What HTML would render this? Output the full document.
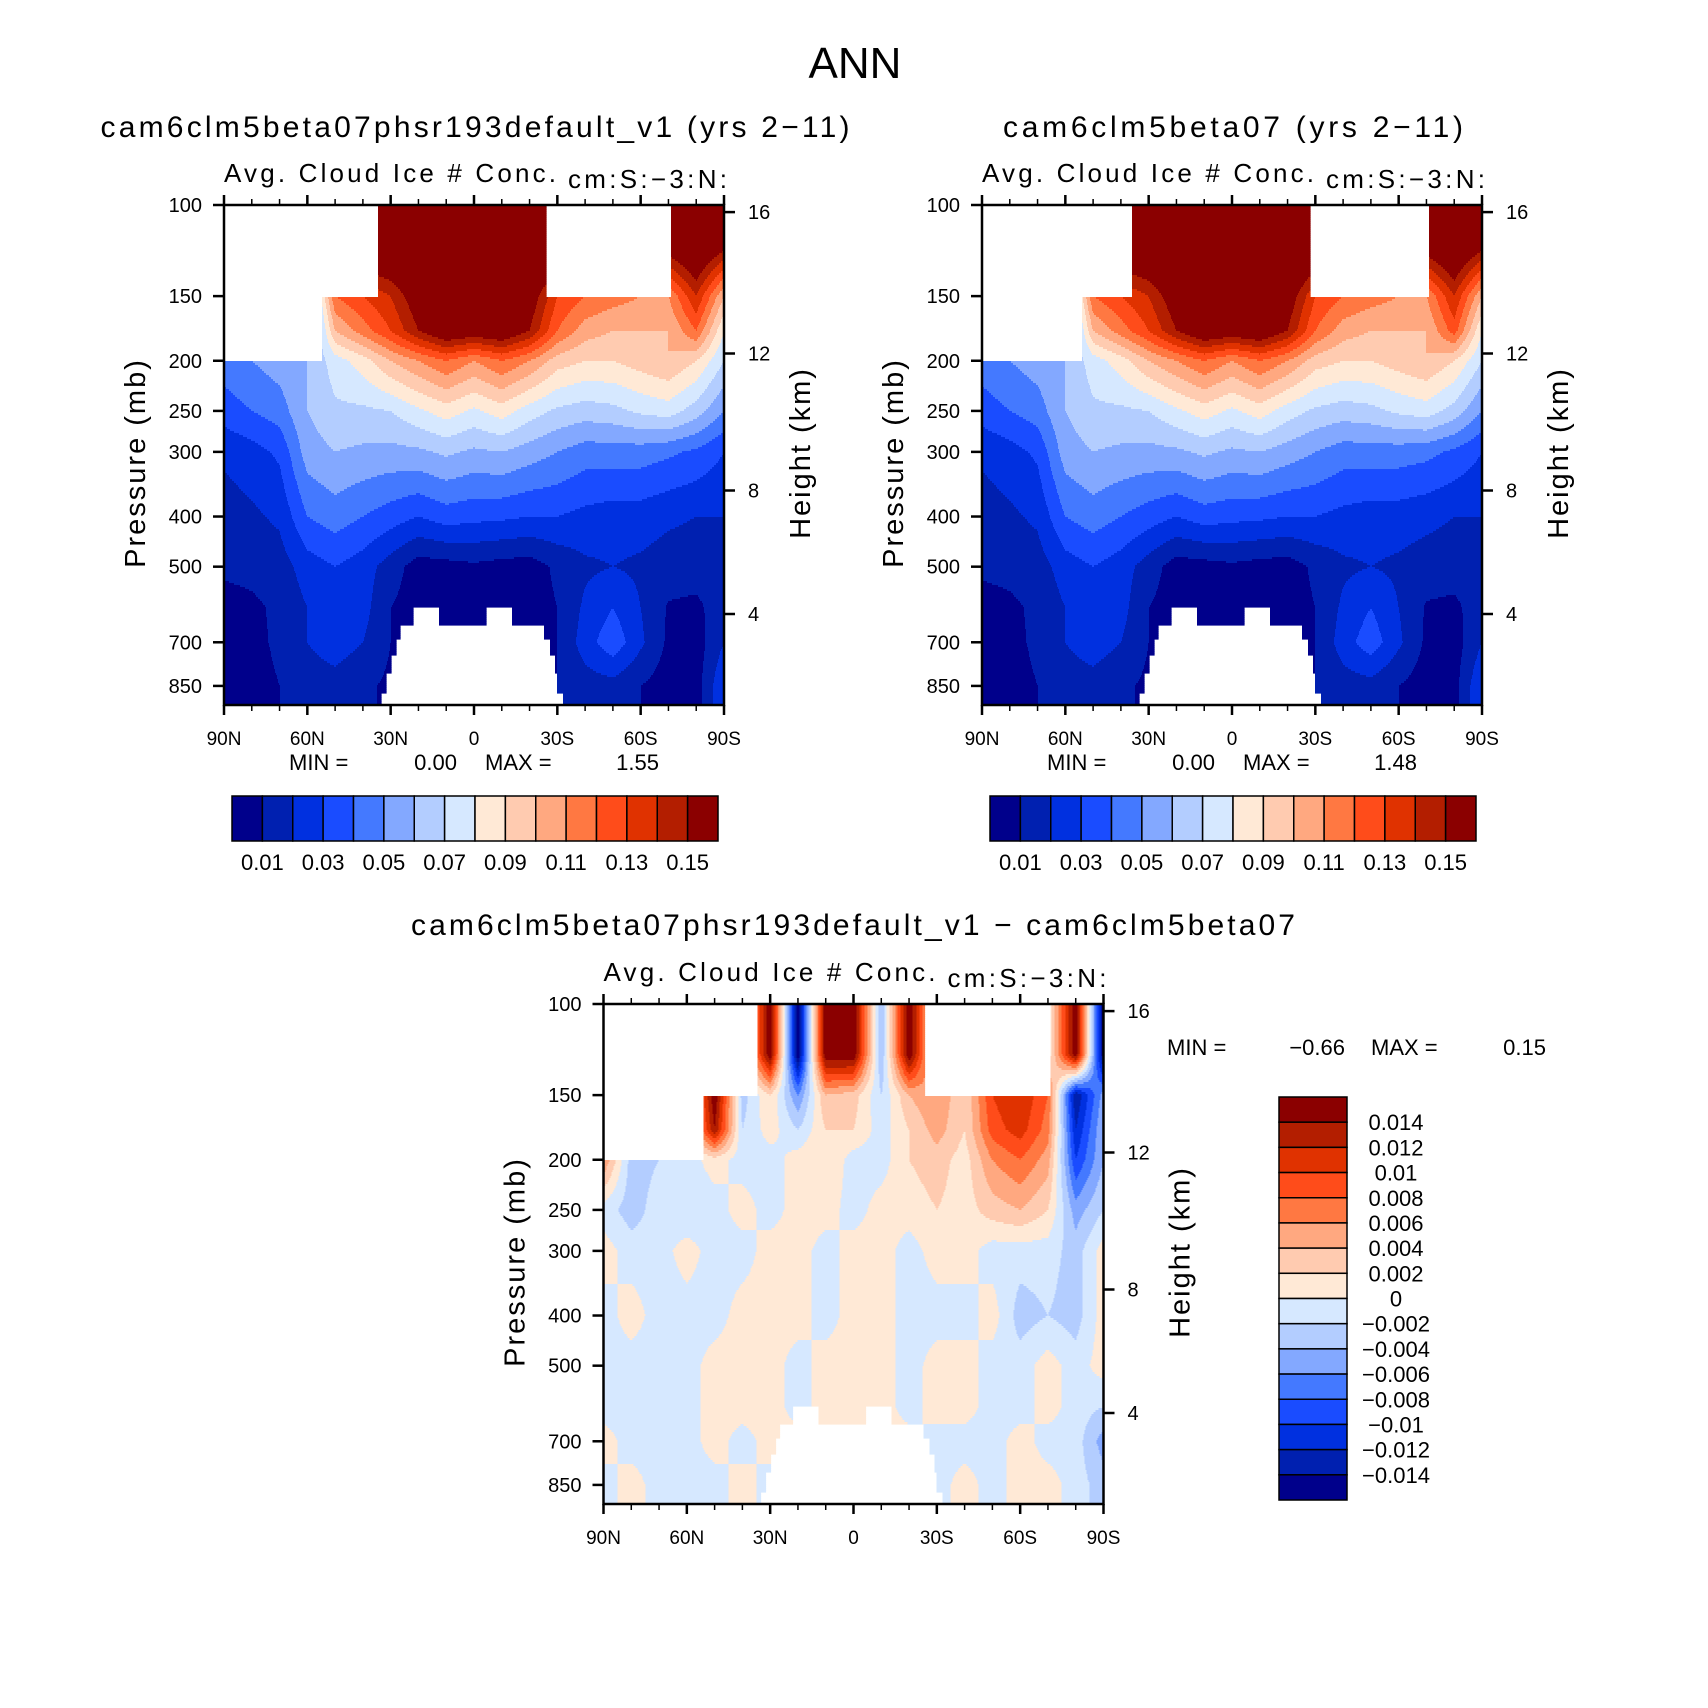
<!DOCTYPE html>
<html><head><meta charset="utf-8"><style>
html,body{margin:0;padding:0;background:#fff}
svg{display:block}
text{font-family:"Liberation Sans",sans-serif;fill:#000}
</style></head><body>
<svg id="fig" width="1708" height="1708" viewBox="0 0 1708 1708" xmlns="http://www.w3.org/2000/svg">
<rect x="0" y="0" width="1708" height="1708" fill="#fff"/>
<text x="855" y="78" font-size="44" text-anchor="middle">ANN</text>
<g id="panels"></g>
</svg>
<script>
// ---------- data ----------
const lats=[90,80,70,60,50,40,30,20,10,0,-10,-20,-30,-40,-50,-60,-70,-80,-90];
const levsAbs=[100,150,175,200,250,300,400,500,600,700,850,1000];
const testVals=[
[0.2,0.2,0.2,0.2,0.2,0.2,0.2,0.2,0.2,0.2,0.2,0.2,0.2,0.2,0.2,0.2,0.2,0.2,0.2],
[0.04,0.04,0.04,0.04,0.12,0.13,0.14,0.16,0.17,0.17,0.17,0.16,0.13,0.12,0.115,0.11,0.11,0.14,0.1],
[0.04,0.04,0.04,0.04,0.1,0.115,0.13,0.15,0.165,0.16,0.165,0.15,0.12,0.105,0.1,0.1,0.1,0.12,0.08],
[0.045,0.05,0.055,0.06,0.075,0.085,0.1,0.11,0.12,0.11,0.12,0.11,0.095,0.09,0.09,0.095,0.1,0.09,0.07],
[0.035,0.04,0.045,0.06,0.068,0.068,0.07,0.078,0.085,0.078,0.085,0.075,0.068,0.065,0.067,0.072,0.075,0.065,0.05],
[0.022,0.026,0.032,0.055,0.06,0.058,0.057,0.058,0.062,0.058,0.06,0.055,0.05,0.045,0.045,0.045,0.042,0.038,0.03],
[0.015,0.018,0.022,0.04,0.045,0.04,0.035,0.03,0.035,0.033,0.032,0.03,0.03,0.027,0.025,0.025,0.022,0.02,0.02],
[0.012,0.013,0.015,0.025,0.03,0.025,0.015,0.005,0.006,0.008,0.006,0.005,0.012,0.018,0.02,0.018,0.015,0.014,0.015],
[0.006,0.008,0.012,0.02,0.027,0.024,0.01,0.005,0.005,0.005,0.005,0.005,0.01,0.022,0.03,0.02,0.009,0.008,0.015],
[0.005,0.007,0.012,0.02,0.025,0.02,0.01,0.005,0.005,0.005,0.005,0.005,0.01,0.025,0.037,0.022,0.008,0.005,0.02],
[0.005,0.006,0.01,0.015,0.016,0.012,0.008,0.005,0.005,0.005,0.005,0.005,0.01,0.015,0.016,0.01,0.005,0.005,0.03],
[0.005,0.006,0.01,0.015,0.016,0.012,0.008,0.005,0.005,0.005,0.005,0.005,0.01,0.015,0.016,0.01,0.005,0.005,0.03]];
const ctrlVals=[
[0.2,0.2,0.2,0.2,0.2,0.2,0.2,0.2,0.2,0.2,0.2,0.2,0.2,0.2,0.2,0.2,0.2,0.2,0.2],
[0.04,0.04,0.04,0.04,0.12,0.13,0.14,0.16,0.17,0.17,0.17,0.16,0.13,0.12,0.115,0.11,0.11,0.14,0.1],
[0.04,0.04,0.04,0.04,0.1,0.115,0.13,0.15,0.165,0.16,0.165,0.15,0.12,0.105,0.1,0.1,0.1,0.125,0.08],
[0.045,0.05,0.055,0.06,0.075,0.085,0.1,0.11,0.12,0.11,0.12,0.11,0.095,0.09,0.09,0.095,0.1,0.09,0.07],
[0.035,0.04,0.045,0.06,0.068,0.068,0.07,0.078,0.085,0.078,0.085,0.075,0.068,0.065,0.067,0.072,0.075,0.066,0.05],
[0.022,0.026,0.032,0.055,0.06,0.058,0.057,0.058,0.062,0.058,0.06,0.055,0.05,0.045,0.045,0.045,0.043,0.038,0.03],
[0.015,0.018,0.022,0.04,0.045,0.04,0.035,0.03,0.035,0.033,0.032,0.03,0.03,0.027,0.025,0.025,0.023,0.02,0.02],
[0.012,0.013,0.015,0.025,0.03,0.025,0.015,0.005,0.006,0.008,0.006,0.005,0.012,0.018,0.02,0.018,0.015,0.014,0.015],
[0.006,0.008,0.012,0.02,0.027,0.024,0.01,0.005,0.005,0.005,0.005,0.005,0.01,0.022,0.03,0.02,0.009,0.008,0.015],
[0.005,0.007,0.012,0.02,0.025,0.02,0.01,0.005,0.005,0.005,0.005,0.005,0.01,0.025,0.036,0.022,0.008,0.005,0.02],
[0.005,0.006,0.01,0.015,0.016,0.012,0.008,0.005,0.005,0.005,0.005,0.005,0.01,0.015,0.016,0.01,0.005,0.006,0.03],
[0.005,0.006,0.01,0.015,0.016,0.012,0.008,0.005,0.005,0.005,0.005,0.005,0.01,0.015,0.016,0.01,0.005,0.006,0.03]];
const levsDiff=[100,125,150,175,200,250,300,400,500,600,700,850,1000];
const diffVals=[
[0,0,0,0,0,0,0.016,-0.016,0.016,0.016,-0.004,0.016,0,0,0,0,0,0.016,-0.016],
[0,0,0,0,0,0,0.016,-0.016,0.016,0.016,-0.004,0.016,0,0,0,0,0,0.016,-0.016],
[0,0,0,0,0.016,-0.003,0.002,-0.006,0.004,0.003,-0.002,0.004,0.006,0.002,0.01,0.012,0.008,-0.014,-0.005],
[0,0,0,0,0.014,-0.002,0.001,-0.002,0.002,0.002,-0.001,0.002,0.005,0.002,0.009,0.011,0.007,-0.012,-0.004],
[0.006,-0.003,-0.002,-0.001,0.001,-0.001,-0.001,0.001,0.002,-0.001,-0.001,0.002,0.003,0.001,0.006,0.008,0.005,-0.01,-0.004],
[-0.001,-0.003,-0.001,-0.002,-0.001,0.001,-0.001,0.001,0.001,-0.001,0.001,0.001,0.002,0.001,0.003,0.004,0.002,-0.005,-0.002],
[0.001,-0.001,-0.001,0.001,-0.001,-0.001,0.001,0.001,-0.001,0.001,0.001,-0.001,0.001,0.001,-0.001,-0.001,-0.001,-0.003,0.001],
[-0.001,0.001,-0.001,-0.001,-0.001,0.001,0.001,0.001,-0.001,0.001,0.001,-0.001,-0.001,-0.001,0.001,-0.003,-0.002,-0.003,0.001],
[-0.001,-0.001,-0.001,-0.001,0.001,0.001,0.001,-0.001,0.001,0.001,0.001,-0.001,0.001,0.001,-0.001,-0.001,0.001,-0.001,0.001],
[-0.001,-0.001,-0.001,-0.001,0.001,0.001,0.001,-0.001,0.001,0.001,0.001,-0.001,0.001,0.001,-0.001,-0.001,0.001,-0.001,-0.002],
[0.001,-0.001,-0.001,-0.001,0.001,-0.001,0.001,0.001,0.001,0.001,0.001,0.001,-0.001,-0.001,-0.001,0.001,-0.001,-0.001,-0.005],
[-0.001,0.001,-0.001,-0.001,-0.001,0.001,-0.001,0.001,0.001,0.001,0.001,0.001,-0.001,0.001,-0.001,0.001,0.001,-0.001,-0.003],
[-0.001,0.001,-0.001,-0.001,-0.001,0.001,-0.001,0.001,0.001,0.001,0.001,0.001,-0.001,0.001,-0.001,0.001,0.001,-0.001,-0.003]];
const absBounds=[0.01,0.02,0.03,0.04,0.05,0.06,0.07,0.08,0.09,0.1,0.11,0.12,0.13,0.14,0.15];
const absLabels=["0.01","0.03","0.05","0.07","0.09","0.11","0.13","0.15"];
const diffBounds=[-0.014,-0.012,-0.01,-0.008,-0.006,-0.004,-0.002,0,0.002,0.004,0.006,0.008,0.01,0.012,0.014];
const diffLabels=["0.014","0.012","0.01","0.008","0.006","0.004","0.002","0","\u22120.002","\u22120.004","\u22120.006","\u22120.008","\u22120.01","\u22120.012","\u22120.014"];
const palette=["#00008b","#0020b0","#0030e0","#1a4cff","#4479ff","#83a8ff","#b3cdff","#d6e8ff","#ffe9d6","#ffcbb0","#ffa880","#ff7842","#ff4c1a","#e03200","#b31e00","#8b0000"];
const pTicks=[100,150,200,250,300,400,500,700,850];
const latTickLabels=["90N","60N","30N","0","30S","60S","90S"];
const hTicks=["16","12","8","4"];
const hFracs=[0.0142,0.297,0.571,0.818];
// ground (topography): [latN, latS, pTop]
const groundSegs=[[33.5,-32,880],[31.5,-30,800],[30,-29,740],[28,-27.5,690],[26.5,-25.3,650],[21.8,12.7,600],[-4.5,-13.5,600]];

// ---------- helpers ----------
const NS="http://www.w3.org/2000/svg";
const root=document.getElementById('panels');
const K=2.225, W=500, H=500;
function yOfP(p){return H*Math.log(p/100)/K;}
function mk(tag,attrs,parent){const e=document.createElementNS(NS,tag);for(const k in attrs)e.setAttribute(k,attrs[k]);(parent||root).appendChild(e);return e;}
function txt(x,y,s,size,anchor,parent,name){const t=mk('text',{x:x,y:y,'font-size':size,'text-anchor':anchor||'start'},parent);t.textContent=s;


return t;}
function val(F,levs,lat,p){
  let li=(90-lat)/10; let i0=Math.max(0,Math.min(17,Math.floor(li))); let t=Math.max(0,Math.min(1,li-i0));
  let j=0; while(j<levs.length-2 && p>levs[j+1]) j++;
  let s=(Math.log(p)-Math.log(levs[j]))/(Math.log(levs[j+1])-Math.log(levs[j])); s=Math.max(0,Math.min(1,s));
  const a=F[j][i0]*(1-t)+F[j][i0+1]*t, b=F[j+1][i0]*(1-t)+F[j+1][i0+1]*t;
  return a*(1-s)+b*s;
}
function level(v,bounds){let k=0;for(const b of bounds){if(v>=b-1e-9)k++;}return k;}
function masked(lat,p,m){
  if(p<150){for(const g of m.top){if(lat<=g[0]&&lat>g[1])return true;}}
  else if(p<200){for(const g of m.mid){if(lat<=g[0]&&lat>g[1])return true;}}
  for(const s of groundSegs){if(lat<=s[0]&&lat>=s[1]&&p>=s[2])return true;}
  return false;
}
function drawField(g,ox,oy,F,levs,bounds,m){
  const step=2;
  for(let yy=0;yy<H;yy+=step){
    const p=100*Math.exp(K*(yy+step/2)/H);
    let runStart=0,runK=null;
    for(let xx=0;xx<=W;xx++){
      let k=null;
      if(xx<W){const lat=90-180*(xx+0.5)/W; if(!masked(lat,p,m)) k=level(val(F,levs,lat,p),bounds);}
      if(k!==runK){
        if(runK!==null){const r=mk('rect',{x:ox+runStart,y:oy+yy,width:xx-runStart+0.6,height:step+0.6,fill:palette[runK]},g);
          
          }
        runStart=xx;runK=k;
      }
    }
  }
}
function drawAxes(g,ox,oy){
  mk('rect',{x:ox,y:oy,width:W,height:H,fill:'none',stroke:'#000','stroke-width':2.5},g);
  for(let i=0;i<=18;i++){
    const x=ox+W*i/18, maj=i%3===0, L=maj?10:6;
    mk('line',{x1:x,y1:oy,x2:x,y2:oy-L,stroke:'#000','stroke-width':maj?2.5:1.5},g);
    mk('line',{x1:x,y1:oy+H,x2:x,y2:oy+H+L,stroke:'#000','stroke-width':maj?2.5:1.5},g);
  }
  latTickLabels.forEach((s,i)=>txt(ox+W*i/6,oy+H+40,s,19,'middle',g,'x-tick-label'));
  pTicks.forEach(p=>{const y=oy+yOfP(p);mk('line',{x1:ox,y1:y,x2:ox-11,y2:y,stroke:'#000','stroke-width':2.5},g);
    txt(ox-22,y+7,String(p),20,'end',g,'y-tick-label');});
  hFracs.forEach((f,i)=>{const y=oy+H*f;mk('line',{x1:ox+W,y1:y,x2:ox+W+11,y2:y,stroke:'#000','stroke-width':2.5},g);
    txt(ox+W+24,y+7,hTicks[i],20,'start',g,'right-tick-label');});
  const t1=txt(0,0,'Pressure (mb)',29,'middle',g,'y-axis-title');t1.setAttribute('transform',`translate(${ox-79},${oy+H/2+8}) rotate(-90)`);t1.setAttribute('letter-spacing','2');
  const t2=txt(0,0,'Height (km)',29,'middle',g,'right-axis-title');t2.setAttribute('transform',`translate(${ox+W+86},${oy+H/2-2}) rotate(-90)`);t2.setAttribute('letter-spacing','2');
  const a=txt(ox,oy-23,'Avg. Cloud Ice # Conc.',26,'start',g,'variable-title');a.setAttribute('textLength','332');
  const b=txt(ox+344,oy-17,'cm:S:\u22123:N:',26,'start',g,'units-title');b.setAttribute('textLength','159');
}
function hColorbar(g,x0,y0,w,h){
  const bw=w/16;
  palette.forEach((c,i)=>{const r=mk('rect',{x:x0+i*bw,y:y0,width:bw,height:h,fill:c,stroke:'#000','stroke-width':1.5},g);
    });
  absLabels.forEach((s,i)=>txt(x0+bw*(2*i+1),y0+74,s,22,'middle',g,'colorbar-label'));
}
function panel(name,ox,oy,F,levs,bounds,m){
  const g=mk('g',{});
  drawField(g,ox,oy,F,levs,bounds,m);drawAxes(g,ox,oy);return g;
}
// ---------- panels ----------
const g1=panel('test-panel',224,205,testVals,levsAbs,absBounds,{top:[[91,34.7],[-26,-71]],mid:[[91,54.7]]});
const tt1=txt(475,137,'cam6clm5beta07phsr193default_v1 (yrs 2\u221211)',30,'middle',g1,'test-case-title');tt1.setAttribute('textLength','749');
txt(289,770,'MIN =',22,'start',g1,'min-label');txt(457,770,'0.00',22,'end',g1,'min-value');
txt(485,770,'MAX =',22,'start',g1,'max-label');txt(659,770,'1.55',22,'end',g1,'max-value');
hColorbar(g1,232,796,486,45);

const g2=panel('control-panel',982,205,ctrlVals,levsAbs,absBounds,{top:[[91,36],[-28,-71]],mid:[[91,54]]});
const tt2=txt(1233,137,'cam6clm5beta07 (yrs 2\u221211)',30,'middle',g2,'control-case-title');tt2.setAttribute('textLength','460');
txt(1047,770,'MIN =',22,'start',g2,'min-label');txt(1215,770,'0.00',22,'end',g2,'min-value');
txt(1243,770,'MAX =',22,'start',g2,'max-label');txt(1417,770,'1.48',22,'end',g2,'max-value');
hColorbar(g2,990,796,486,45);

const g3=panel('difference-panel',603.5,1004,diffVals,levsDiff,diffBounds,{top:[[91,34.7],[-25.7,-71]],mid:[[91,54]]});
const tt3=txt(853,935,'cam6clm5beta07phsr193default_v1 \u2212 cam6clm5beta07',30,'middle',g3,'difference-title');tt3.setAttribute('textLength','884');
txt(1167,1055,'MIN =',22,'start',g3,'min-label');txt(1345,1055,'\u22120.66',22,'end',g3,'min-value');
txt(1371,1055,'MAX =',22,'start',g3,'max-label');txt(1546,1055,'0.15',22,'end',g3,'max-value');
// vertical colorbar
{const x0=1279,y0=1097,w=68,bh=(1500-1097)/16;
 for(let i=0;i<16;i++){const r=mk('rect',{x:x0,y:y0+i*bh,width:w,height:bh,fill:palette[15-i],stroke:'#000','stroke-width':1.5},g3);
   }
 diffLabels.forEach((s,i)=>txt(1396,y0+bh*(i+1)+8,s,22,'middle',g3,'diff-colorbar-label'));}
</script>
</body></html>
